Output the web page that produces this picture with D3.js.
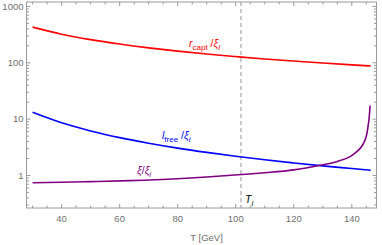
<!DOCTYPE html>
<html><head><meta charset="utf-8">
<script src="https://cdn.jsdelivr.net/npm/d3@7"></script>
<style>body{margin:0;background:#fff}svg{display:block;font-family:"Liberation Sans",Arial,sans-serif}</style>
</head><body><svg id="c" width="382" height="245"></svg>
<script>
// ---- data ----
const T_main = [30, 40, 50, 60, 70, 80, 90, 100, 110, 120, 130, 140, 146.5];
const rCapt  = [430, 322, 258, 215, 184, 161, 143, 129, 117, 107.5, 99, 92, 88];
const lFree  = [13.2, 8.6, 6.17, 4.70, 3.74, 3.06, 2.57, 2.20, 1.90, 1.67, 1.48, 1.33, 1.24];
const T_xi   = [30, 40, 50, 63.6, 80, 90, 102, 110, 120, 129, 135, 139.4, 141.5, 142.8, 143.8, 144.6, 145.2, 145.6, 146.0, 146.3];
const xiRat  = [0.745, 0.76, 0.78, 0.81, 0.875, 0.94, 1.04, 1.12, 1.26, 1.52, 1.78, 2.16, 2.6, 3.0, 3.55, 4.3, 5.6, 7.5, 11, 17.5];
const Ti = 101.8;
const xTicks = [40, 60, 80, 100, 120, 140];
const yTicks = [1, 10, 100, 1000];
const yTickLabels = ["1", "10", "100", "1000"];

const svg = d3.select("#c");
const L = 26.5, R = 376.5, Tp = 2, B = 208;
const x = d3.scaleLinear().domain([27.9, 148.5]).range([L, R]);
const y = d3.scaleLog().domain([0.265, 1200]).range([B, Tp]);

const frameCol = "#9a9a9a", tickLabCol = "#707070";

const xMinor = d3.range(30, 149, 5).filter(v => !xTicks.includes(v));
const yMinor = [];
[0.1, 1, 10, 100].forEach(d => { for (let k = 2; k <= 9; k++) { const v = d * k; if (v > 0.265 && v < 1200) yMinor.push(v); } });

const g = svg.append("g").attr("stroke", frameCol).attr("stroke-width", 1);
xTicks.forEach(v => {
  g.append("line").attr("x1", x(v)).attr("x2", x(v)).attr("y1", B).attr("y2", B - 4);
  g.append("line").attr("x1", x(v)).attr("x2", x(v)).attr("y1", Tp).attr("y2", Tp + 4);
});
xMinor.forEach(v => {
  g.append("line").attr("x1", x(v)).attr("x2", x(v)).attr("y1", B).attr("y2", B - 2.5);
  g.append("line").attr("x1", x(v)).attr("x2", x(v)).attr("y1", Tp).attr("y2", Tp + 2.5);
});
yTicks.forEach(v => {
  g.append("line").attr("x1", L).attr("x2", L + 4).attr("y1", y(v)).attr("y2", y(v));
  g.append("line").attr("x1", R).attr("x2", R - 4).attr("y1", y(v)).attr("y2", y(v));
});
yMinor.forEach(v => {
  g.append("line").attr("x1", L).attr("x2", L + 2.5).attr("y1", y(v)).attr("y2", y(v));
  g.append("line").attr("x1", R).attr("x2", R - 2.5).attr("y1", y(v)).attr("y2", y(v));
});

svg.append("line").attr("x1", x(Ti)).attr("x2", x(Ti)).attr("y1", Tp).attr("y2", B)
  .attr("stroke", "#a8a8a8").attr("stroke-width", 1.2).attr("stroke-dasharray", "4,3");

const line = (xs, ys) => d3.line().x((d, i) => x(xs[i])).y(d => y(d)).curve(d3.curveMonotoneX)(ys);
svg.append("path").attr("d", line(T_main, rCapt)).attr("fill", "none").attr("stroke", "#ff0000").attr("stroke-width", 1.6);
svg.append("path").attr("d", line(T_main, lFree)).attr("fill", "none").attr("stroke", "#0000ff").attr("stroke-width", 1.6);
svg.append("path").attr("d", line(T_xi, xiRat)).attr("fill", "none").attr("stroke", "#800080").attr("stroke-width", 1.6);

svg.append("rect").attr("x", L).attr("y", Tp).attr("width", R - L).attr("height", B - Tp)
  .attr("fill", "none").attr("stroke", frameCol).attr("stroke-width", 1);

svg.append("g").selectAll("text").data(xTicks).join("text")
  .attr("x", d => x(d)).attr("y", 221.5).attr("text-anchor", "middle")
  .attr("font-size", 9.5).attr("fill", tickLabCol).text(d => d);
svg.append("g").selectAll("text").data(yTicks).join("text")
  .attr("x", L - 3).attr("y", d => y(d) + 3.3).attr("text-anchor", "end")
  .attr("font-size", 9.5).attr("fill", tickLabCol).text((d, i) => yTickLabels[i]);
svg.append("text").attr("x", (L + R) / 2 + 5).attr("y", 241).attr("text-anchor", "middle")
  .attr("font-size", 9.5).attr("fill", tickLabCol).text("T [GeV]");

function label(xp, yp, col, parts) {
  const t = svg.append("text").attr("x", xp).attr("y", yp).attr("fill", col).attr("font-size", 10.5);
  parts.forEach(p => {
    const s = t.append("tspan").text(p.t);
    if (p.i) s.attr("font-style", "italic");
    if (p.sub) s.attr("font-size", 8);
    if (p.dy) s.attr("dy", p.dy);
  });
}
label(189, 47, "#ff0000", [{t: "r", i: 1}, {t: "capt", sub: 1, dy: 2.5}, {t: " /", dy: -2.5}, {t: "ξ", i: 1}, {t: "i", i: 1, sub: 1, dy: 2.5}]);
label(162, 139, "#0000ff", [{t: "l", i: 1}, {t: "free", sub: 1, dy: 2.5}, {t: " /", dy: -2.5}, {t: "ξ", i: 1}, {t: "i", i: 1, sub: 1, dy: 2.5}]);
label(137, 174, "#800080", [{t: "ξ", i: 1}, {t: "/"}, {t: "ξ", i: 1}, {t: "i", i: 1, sub: 1, dy: 2.5}]);
label(245, 203, "#000", [{t: "T", i: 1}, {t: "i", i: 1, sub: 1, dy: 2.5}]);
</script></body></html>
